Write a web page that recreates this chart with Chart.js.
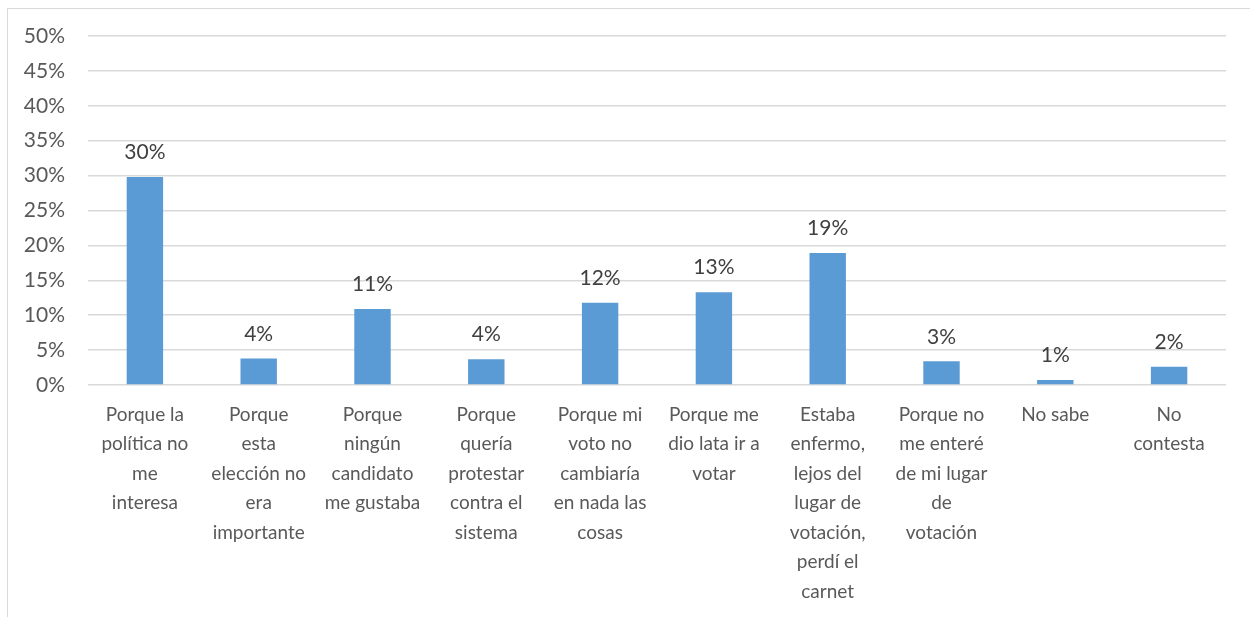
<!DOCTYPE html>
<html>
<head>
<meta charset="utf-8">
<script src="https://cdn.jsdelivr.net/npm/chart.js@4/dist/chart.umd.min.js"></script>
<style>
  html, body { margin: 0; padding: 0; background: #fff; }
  #wrap { width: 1250px; height: 617px; position: relative; }
</style>
</head>
<body>
<div id="wrap"><canvas id="myChart"></canvas></div>
<script>
// categories (already split into lines like the original)
var categories = [
    ["Porque la", "política no", "me", "interesa"],
    ["Porque", "esta", "elección no", "era", "importante"],
    ["Porque", "ningún", "candidato", "me gustaba"],
    ["Porque", "quería", "protestar", "contra el", "sistema"],
    ["Porque mi", "voto no", "cambiaría", "en nada las", "cosas"],
    ["Porque me", "dio lata ir a", "votar"],
    ["Estaba", "enfermo,", "lejos del", "lugar de", "votación,", "perdí el", "carnet"],
    ["Porque no", "me enteré", "de mi lugar", "de", "votación"],
    ["No sabe"],
    ["No", "contesta"]
];
// percent values
var values = [29.8, 3.8, 10.9, 3.7, 11.8, 13.3, 18.9, 3.4, 0.7, 2.6];
// the labels printed above the bars
var valueLabels = ["30%", "4%", "11%", "4%", "12%", "13%", "19%", "3%", "1%", "2%"];
var yTicks = [0, 5, 10, 15, 20, 25, 30, 35, 40, 45, 50];

var FONT = "Lato, 'Open Sans', sans-serif";

// draws the value above each bar
var barLabels = {
    id: 'barLabels',
    afterDatasetsDraw: function(chart) {
        var ctx = chart.ctx;
        var meta = chart.getDatasetMeta(0);
        ctx.save();
        ctx.font = "21px " + FONT;
        ctx.fillStyle = "#404040";
        ctx.textAlign = "center";
        ctx.textBaseline = "bottom";
        meta.data.forEach(function(bar, i) {
            ctx.fillText(valueLabels[i], bar.x, bar.y - 14);
        });
        ctx.restore();
    }
};

// light frame round the whole chart
var frame = {
    id: 'frame',
    beforeDraw: function(chart) {
        var ctx = chart.ctx;
        ctx.save();
        ctx.strokeStyle = "#d9d9d9";
        ctx.lineWidth = 1;
        ctx.strokeRect(7.5, 8.5, chart.width, chart.height);
        ctx.restore();
    }
};

var ctx = document.getElementById("myChart");
var myBarChart = new Chart(ctx, {
    type: 'bar',
    data: {
        labels: categories,
        datasets: [{
            data: values,
            backgroundColor: "#5B9BD5",
            borderWidth: 0,
            barPercentage: 0.32,
            categoryPercentage: 1
        }]
    },
    options: {
        responsive: true,
        maintainAspectRatio: false,
        animation: false,
        layout: { padding: { top: 36, right: 24, bottom: 0, left: 0 } },
        plugins: {
            legend: { display: false },
            tooltip: { enabled: false }
        },
        scales: {
            x: {
                grid: { display: false, drawTicks: false },
                border: { display: false },
                ticks: {
                    color: "#595959",
                    font: { family: FONT, size: 19, lineHeight: 1.55 },
                    padding: 15,
                    maxRotation: 0,
                    autoSkip: false
                },
                afterFit: function(scale) { scale.height = 232; }
            },
            y: {
                min: 0,
                max: 50,
                afterBuildTicks: function(scale) {
                    scale.ticks = yTicks.map(function(v) { return { value: v }; });
                },
                grid: { color: "#d9d9d9", lineWidth: 1.5, drawTicks: false },
                border: { display: false },
                ticks: {
                    color: "#595959",
                    font: { family: FONT, size: 21 },
                    padding: 23,
                    callback: function(v) { return v + "%"; }
                },
                afterFit: function(scale) { scale.width = 88; }
            }
        }
    },
    plugins: [barLabels, frame]
});
</script>
</body>
</html>
